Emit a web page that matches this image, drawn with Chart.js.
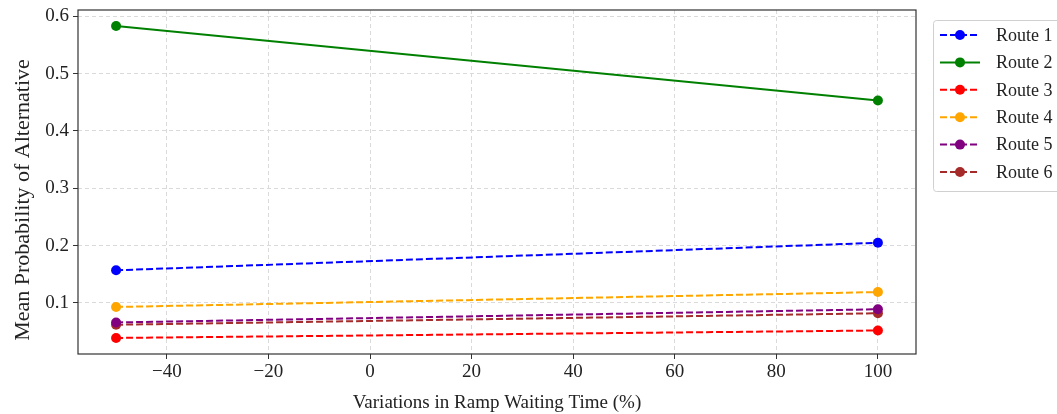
<!DOCTYPE html>
<html>
<head>
<meta charset="utf-8">
<script src="https://cdn.jsdelivr.net/npm/chart.js@4/dist/chart.umd.min.js"></script>
<style>
	html, body { margin: 0; padding: 0; background: #fff; }
	#wrap { width: 1057px; height: 414px; }
</style>
</head>
<body>
<div id="wrap"><canvas id="chart" width="1057" height="414"></canvas></div>
<script>
const variations = [-50, 100];
const routeNames = ["Route 1", "Route 2", "Route 3", "Route 4", "Route 5", "Route 6"];
const route1 = [0.157, 0.205];
const route2 = [0.583, 0.453];
const route3 = [0.039, 0.052];
const route4 = [0.093, 0.119];
const route5 = [0.066, 0.089];
const route6 = [0.062, 0.082];
const xTicks = [-40, -20, 0, 20, 40, 60, 80, 100];
const yTicks = [0.1, 0.2, 0.3, 0.4, 0.5, 0.6];
const yTitle = "Mean Probability of Alternative";

const colors = ["#0000ff", "#008000", "#ff0000", "#ffa500", "#800080", "#a52a2a"];
const dashed = [true, false, true, true, true, true];
const FONT = "'Liberation Serif', 'Times New Roman', serif";

const datasets = [route1, route2, route3, route4, route5, route6].map((vals, i) => ({
	label: routeNames[i],
	data: vals.map((v, j) => ({ x: variations[j], y: v })),
	borderColor: colors[i],
	backgroundColor: colors[i],
	borderWidth: 2,
	borderDash: dashed[i] ? [7, 3] : [],
	pointRadius: 5,
	pointHoverRadius: 5,
	pointBorderWidth: 0,
	tension: 0
}));

// full box around the plot area, the y title, and a matplotlib-like legend
const framePlugin = {
	id: "frame",
	afterDraw(chart) {
		const { ctx, chartArea: a } = chart;
		ctx.save();
		ctx.strokeStyle = "#333";
		ctx.lineWidth = 1.2;
		ctx.setLineDash([]);
		ctx.strokeRect(a.left, a.top, a.right - a.left, a.bottom - a.top);

		// y title (sits a bit below the axis centre in the original)
		ctx.save();
		ctx.translate(23, 200);
		ctx.rotate(-Math.PI / 2);
		ctx.font = "22px " + FONT;
		ctx.fillStyle = "#222";
		ctx.textAlign = "center";
		ctx.textBaseline = "middle";
		ctx.fillText(yTitle, 0, 0);
		ctx.restore();

		// legend
		const bx = 933, by = 20, bw = 135, bh = 171;
		ctx.strokeStyle = "#d0d0d0";
		ctx.lineWidth = 1;
		ctx.beginPath();
		ctx.roundRect(bx + 0.5, by + 0.5, bw, bh, 3);
		ctx.stroke();
		ctx.font = "18px " + FONT;
		ctx.textBaseline = "middle";
		chart.data.datasets.forEach((ds, i) => {
			const y = 35 + i * 27.4;
			ctx.strokeStyle = ds.borderColor;
			ctx.lineWidth = 2;
			ctx.setLineDash(ds.borderDash);
			ctx.beginPath();
			ctx.moveTo(940, y);
			ctx.lineTo(980, y);
			ctx.stroke();
			ctx.setLineDash([]);
			ctx.fillStyle = ds.borderColor;
			ctx.beginPath();
			ctx.arc(960, y, 5, 0, Math.PI * 2);
			ctx.fill();
			ctx.fillStyle = "#222";
			ctx.fillText(ds.label, 996, y + 1);
		});
		ctx.restore();
	}
};

const gridOpts = {
	color: "#dadada",
	lineWidth: 1,
	tickColor: "#333",
	tickLength: 5,
	tickBorderDash: []
};

new Chart(document.getElementById("chart"), {
	type: "line",
	data: { datasets },
	plugins: [framePlugin],
	options: {
		responsive: false,
		animation: false,
		layout: { padding: { left: 0, top: 10, right: 141, bottom: 0 } },
		plugins: { legend: { display: false }, tooltip: { enabled: false } },
		scales: {
			x: {
				type: "linear",
				min: -57.5,
				max: 107.5,
				afterBuildTicks: (s) => { s.ticks = xTicks.map(v => ({ value: v })); },
				afterFit: (s) => { s.height = 60; s.paddingLeft = 0; s.paddingRight = 0; },
				grid: gridOpts,
				border: { display: false, dash: [4, 3] },
				ticks: {
					color: "#222",
					font: { family: FONT, size: 19 },
					padding: 2,
					maxRotation: 0,
					callback: (v) => (v < 0 ? "\u2212" + Math.abs(v) : String(v))
				},
				title: {
					display: true,
					text: "Variations in Ramp Waiting Time (%)",
					color: "#222",
					font: { family: FONT, size: 19 },
					padding: { top: 4, bottom: 0 }
				}
			},
			y: {
				type: "linear",
				min: 0.011,
				max: 0.611,
				afterBuildTicks: (s) => { s.ticks = yTicks.map(v => ({ value: v })); },
				afterFit: (s) => { s.width = 78; s.paddingTop = 0; s.paddingBottom = 0; },
				grid: gridOpts,
				border: { display: false, dash: [4, 3] },
				ticks: {
					color: "#222",
					font: { family: FONT, size: 19 },
					padding: 4,
					callback: (v) => v.toFixed(1)
				}
			}
		}
	}
});
</script>
</body>
</html>
